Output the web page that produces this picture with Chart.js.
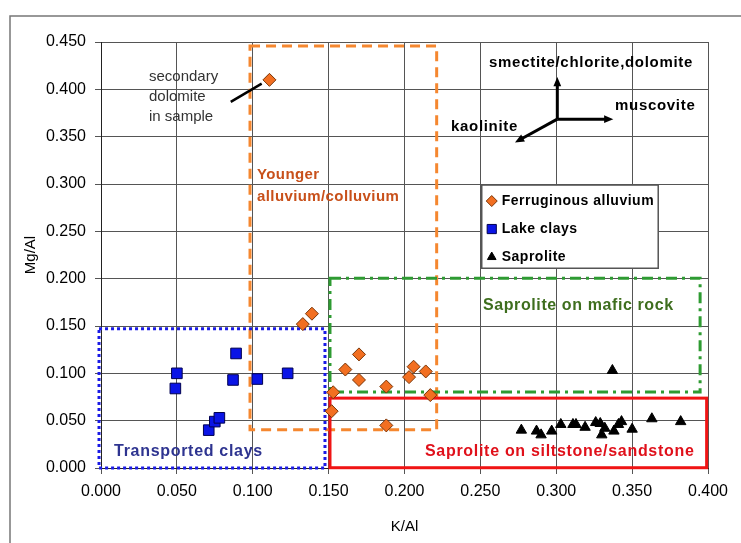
<!DOCTYPE html>
<html>
<head>
<meta charset="utf-8">
<script src="https://cdn.jsdelivr.net/npm/chart.js@4.4.1/dist/chart.umd.min.js"></script>
<style>
  html, body { margin: 0; padding: 0; background: #fff; }
</style>
</head>
<body>
<canvas id="myChart" width="741" height="543"></canvas>
<script>
// K/Al vs Mg/Al values
var ferrugX = [0.111, 0.139, 0.133, 0.153, 0.152, 0.161, 0.170, 0.170, 0.188, 0.188, 0.203, 0.206, 0.214, 0.217];
var ferrugY = [0.410, 0.163, 0.152, 0.080, 0.060, 0.104, 0.120, 0.093, 0.086, 0.045, 0.096, 0.107, 0.102, 0.077];

var lakeX = [0.050, 0.049, 0.071, 0.075, 0.078, 0.087, 0.089, 0.103, 0.123];
var lakeY = [0.100, 0.084, 0.040, 0.049, 0.053, 0.093, 0.121, 0.094, 0.100];

var saproX = [0.337, 0.277, 0.287, 0.290, 0.297, 0.303, 0.311, 0.313, 0.319, 0.326, 0.329, 0.332, 0.330, 0.338, 0.341, 0.343, 0.350, 0.363, 0.382];
var saproY = [0.103, 0.040, 0.039, 0.035, 0.039, 0.046, 0.046, 0.046, 0.043, 0.048, 0.047, 0.042, 0.035, 0.039, 0.046, 0.049, 0.041, 0.052, 0.049];

var seriesNames = ['Ferruginous alluvium', 'Lake clays', 'Saprolite'];
var xTickLabels = ['0.000', '0.050', '0.100', '0.150', '0.200', '0.250', '0.300', '0.350', '0.400'];
var yTickLabels = ['0.000', '0.050', '0.100', '0.150', '0.200', '0.250', '0.300', '0.350', '0.400', '0.450'];

function pts(xs, ys) {
    return xs.map(function (x, i) { return { x: x, y: ys[i] }; });
}

// field boxes, in data units
var zones = [
    { x0: 0.0982, x1: 0.2212, y0: 0.0404, y1: 0.4458, color: '#f5872f', dash: [10, 6] },
    { x0: -0.0013, x1: 0.1476, y0: 0.0, y1: 0.1470, color: '#1a1ae6', dash: [3, 3] },
    { x0: 0.1509, x1: 0.3948, y0: 0.0802, y1: 0.2004, color: '#2e9b32', dash: [11, 5, 3, 5] },
    { x0: 0.1509, x1: 0.3991, y0: 0.0003, y1: 0.0738, color: '#f01414', dash: [] }
];

var notes = [
    { t: 'secondary', x: 0.0316, y: 0.4128, font: '15px "Liberation Sans", Arial', color: '#333', sp: '0px' },
    { t: 'dolomite', x: 0.0316, y: 0.3917, font: '15px "Liberation Sans", Arial', color: '#333', sp: '0px' },
    { t: 'in sample', x: 0.0316, y: 0.3706, font: '15px "Liberation Sans", Arial', color: '#333', sp: '0px' },
    { t: 'Younger', x: 0.1028, y: 0.3094, font: 'bold 15px "Liberation Sans", Arial', color: '#c8501a', sp: '0.4px' },
    { t: 'alluvium/colluvium', x: 0.1028, y: 0.2862, font: 'bold 15px "Liberation Sans", Arial', color: '#c8501a', sp: '0.4px' },
    { t: 'smectite/chlorite,dolomite', x: 0.2557, y: 0.4276, font: 'bold 15px "Liberation Sans", Arial', color: '#000', sp: '0.7px' },
    { t: 'muscovite', x: 0.3387, y: 0.3822, font: 'bold 15px "Liberation Sans", Arial', color: '#000', sp: '0.7px' },
    { t: 'kaolinite', x: 0.2306, y: 0.3600, font: 'bold 15px "Liberation Sans", Arial', color: '#000', sp: '0.7px' },
    { t: 'Saprolite on mafic rock', x: 0.2517, y: 0.1712, font: 'bold 16px "Liberation Sans", Arial', color: '#3e6e1e', sp: '0.6px' },
    { t: 'Transported clays', x: 0.0086, y: 0.0172, font: 'bold 16px "Liberation Sans", Arial', color: '#2e3490', sp: '0.7px' },
    { t: 'Saprolite on siltstone/sandstone', x: 0.2135, y: 0.0172, font: 'bold 16px "Liberation Sans", Arial', color: '#e0101a', sp: '0.7px' }
];

var arrows = [
    { x0: 0.3007, y0: 0.3685, x1: 0.3007, y1: 0.4131 },
    { x0: 0.3007, y0: 0.3685, x1: 0.3376, y1: 0.3685 },
    { x0: 0.3007, y0: 0.3685, x1: 0.2728, y1: 0.3439 }
];
var leader = { x0: 0.0855, y0: 0.3867, x1: 0.1059, y1: 0.4061 };
var legendBox = { x0: 0.2509, x1: 0.3672, y0: 0.2110, y1: 0.2989 };

function px(chart, x, y) {
    return [chart.scales.x.getPixelForValue(x), chart.scales.y.getPixelForValue(y)];
}

var extras = {
    id: 'extras',
    beforeDraw: function (chart) {
        var ctx = chart.ctx;
        ctx.save();
        ctx.fillStyle = '#fff';
        ctx.fillRect(0, 0, chart.width, chart.height);
        ctx.strokeStyle = '#777';
        ctx.lineWidth = 1.5;
        ctx.strokeRect(10, 16, chart.width + 20, chart.height + 20);
        ctx.restore();
    },
    beforeDatasetsDraw: function (chart) {
        var ctx = chart.ctx;
        ctx.save();
        zones.forEach(function (z) {
            var a = px(chart, z.x0, z.y1), b = px(chart, z.x1, z.y0);
            ctx.setLineDash(z.dash);
            ctx.strokeStyle = z.color;
            ctx.lineWidth = 3;
            ctx.strokeRect(a[0], a[1], b[0] - a[0], b[1] - a[1]);
        });
        ctx.restore();
    },
    afterDatasetsDraw: function (chart) {
        var ctx = chart.ctx;
        ctx.save();
        ctx.textBaseline = 'middle';
        ctx.textAlign = 'left';
        notes.forEach(function (n) {
            var p = px(chart, n.x, n.y);
            ctx.font = n.font;
            ctx.fillStyle = n.color;
            ctx.letterSpacing = n.sp;
            ctx.fillText(n.t, p[0], p[1]);
        });
        ctx.letterSpacing = '0px';

        // leader line to the odd sample
        var a = px(chart, leader.x0, leader.y0), b = px(chart, leader.x1, leader.y1);
        ctx.strokeStyle = '#000';
        ctx.lineWidth = 2.5;
        ctx.beginPath(); ctx.moveTo(a[0], a[1]); ctx.lineTo(b[0], b[1]); ctx.stroke();

        // mineral arrows
        arrows.forEach(function (r) {
            var s = px(chart, r.x0, r.y0), e = px(chart, r.x1, r.y1);
            var ang = Math.atan2(e[1] - s[1], e[0] - s[0]);
            ctx.lineWidth = 3;
            ctx.beginPath(); ctx.moveTo(s[0], s[1]);
            ctx.lineTo(e[0] - 6 * Math.cos(ang), e[1] - 6 * Math.sin(ang)); ctx.stroke();
            ctx.fillStyle = '#000';
            ctx.beginPath();
            ctx.moveTo(e[0], e[1]);
            ctx.lineTo(e[0] - 10 * Math.cos(ang - 0.4), e[1] - 10 * Math.sin(ang - 0.4));
            ctx.lineTo(e[0] - 10 * Math.cos(ang + 0.4), e[1] - 10 * Math.sin(ang + 0.4));
            ctx.closePath(); ctx.fill();
        });

        // legend inside the plot
        var l = px(chart, legendBox.x0, legendBox.y1), r = px(chart, legendBox.x1, legendBox.y0);
        ctx.fillStyle = '#fff';
        ctx.fillRect(l[0], l[1], r[0] - l[0], r[1] - l[1]);
        ctx.strokeStyle = '#555';
        ctx.lineWidth = 1.5;
        ctx.strokeRect(l[0], l[1], r[0] - l[0], r[1] - l[1]);
        ctx.font = 'bold 14px "Liberation Sans", Arial';
        ctx.letterSpacing = '0.5px';
        chart.data.datasets.forEach(function (ds, i) {
            var y = l[1] + 16 + i * 28;
            ctx.fillStyle = ds.backgroundColor;
            ctx.strokeStyle = ds.borderColor;
            ctx.lineWidth = 1;
            Chart.helpers.drawPoint(ctx, { pointStyle: ds.pointStyle, radius: ds.legendRadius, borderWidth: 1, rotation: 0 }, l[0] + 10, y);
            ctx.fillStyle = '#000';
            ctx.fillText(ds.label, l[0] + 20, y);
        });
        ctx.restore();
    }
};

var ctx = document.getElementById('myChart').getContext('2d');
var myChart = new Chart(ctx, {
    type: 'scatter',
    data: {
        datasets: [
            {
                label: seriesNames[0],
                data: pts(ferrugX, ferrugY),
                pointStyle: 'rectRot',
                radius: 6.5,
                legendRadius: 5.5,
                backgroundColor: '#f26f21',
                borderColor: '#7a3608',
                borderWidth: 1
            },
            {
                label: seriesNames[1],
                data: pts(lakeX, lakeY),
                pointStyle: 'rect',
                radius: 7.5,
                legendRadius: 6.5,
                backgroundColor: '#0a14e6',
                borderColor: '#000050',
                borderWidth: 1
            },
            {
                label: seriesNames[2],
                data: pts(saproX, saproY),
                pointStyle: 'triangle',
                radius: 6,
                legendRadius: 5,
                backgroundColor: '#000',
                borderColor: '#000',
                borderWidth: 1
            }
        ]
    },
    options: {
        responsive: false,
        animation: false,
        devicePixelRatio: 1,
        layout: { padding: { top: 42, right: 33, left: 0, bottom: 0 } },
        plugins: {
            legend: { display: false },
            tooltip: { enabled: false }
        },
        scales: {
            x: {
                type: 'linear',
                min: 0,
                max: 0.4,
                afterFit: function (s) { s.height = 75; },
                afterBuildTicks: function (s) {
                    s.ticks = xTickLabels.map(function (t) { return { value: parseFloat(t) }; });
                },
                ticks: {
                    autoSkip: false,
                    maxRotation: 0,
                    padding: 8,
                    color: '#000',
                    font: { family: '"Liberation Sans", Arial', size: 16 },
                    callback: function (v, i) { return xTickLabels[i]; }
                },
                grid: { color: '#555', lineWidth: 1, tickLength: 6 },
                border: { color: '#222', width: 1 },
                title: {
                    display: true,
                    text: 'K/Al',
                    color: '#000',
                    font: { family: '"Liberation Sans", Arial', size: 15 },
                    padding: { top: 0, bottom: 7 }
                }
            },
            y: {
                type: 'linear',
                min: 0,
                max: 0.45,
                afterFit: function (s) { s.width = 101; },
                afterBuildTicks: function (s) {
                    s.ticks = yTickLabels.map(function (t) { return { value: parseFloat(t) }; });
                },
                ticks: {
                    autoSkip: false,
                    padding: 9,
                    color: '#000',
                    font: { family: '"Liberation Sans", Arial', size: 16 },
                    callback: function (v, i) { return yTickLabels[i]; }
                },
                grid: { color: '#555', lineWidth: 1, tickLength: 6 },
                border: { color: '#222', width: 1 },
                title: {
                    display: true,
                    text: 'Mg/Al',
                    color: '#000',
                    font: { family: '"Liberation Sans", Arial', size: 15 },
                    padding: { top: 22, bottom: 0 }
                }
            }
        }
    },
    plugins: [extras]
});
</script>
</body>
</html>
